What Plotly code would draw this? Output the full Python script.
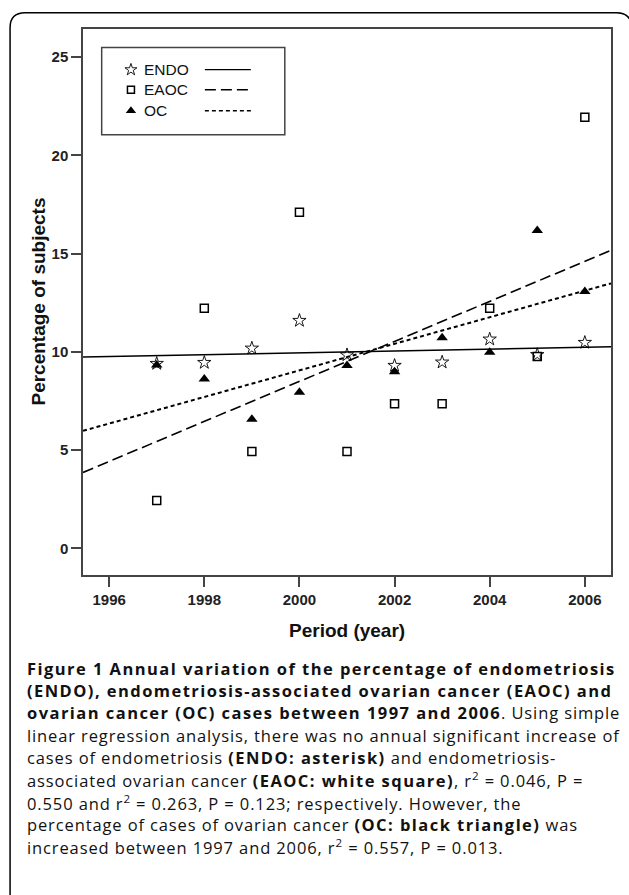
import numpy as np
import plotly.graph_objects as go

# ---------------- data ----------------
years = [1997, 1998, 1999, 2000, 2001, 2002, 2003, 2004, 2005, 2006]
endo = [9.40, 9.45, 10.18, 11.59, 9.84, 9.30, 9.47, 10.64, 9.85, 10.47]
eaoc = [2.43, 12.22, 4.92, 17.10, 4.92, 7.35, 7.35, 12.22, 9.76, 21.94]
oc = [9.33, 8.62, 6.57, 7.94, 9.30, 8.99, 10.72, 9.98, 16.17, 13.07]
series_names = ["ENDO", "EAOC", "OC"]
x_ticks = [1996, 1998, 2000, 2002, 2004, 2006]
y_ticks = [0, 5, 10, 15, 20, 25]
x_title = "Period (year)"
y_title = "Percentage of subjects"
# caption: list of (text, bold) segments per line
caption_lines = [
    [("Figure 1 Annual variation of the percentage of endometriosis", True)],
    [("(ENDO), endometriosis-associated ovarian cancer (EAOC) and", True)],
    [("ovarian cancer (OC) cases between 1997 and 2006", True), (". Using simple", False)],
    [("linear regression analysis, there was no annual significant increase of", False)],
    [("cases of endometriosis ", False), ("(ENDO: asterisk)", True), (" and endometriosis-", False)],
    [("associated ovarian cancer ", False), ("(EAOC: white square)", True),
     (", r<sup>2</sup> = 0.046, P =", False)],
    [("0.550 and r<sup>2</sup> = 0.263, P = 0.123; respectively. However, the", False)],
    [("percentage of cases of ovarian cancer ", False), ("(OC: black triangle)", True), (" was", False)],
    [("increased between 1997 and 2006, r<sup>2</sup> = 0.557, P = 0.013.", False)],
]

# ---------------- layout constants ----------------
W_FIG, H_FIG = 629, 895
L, R, T, B = 83, 611.5, 29.3, 575
PW, PH = R - L, B - T
X_RANGE = [1995.45, 2006.55]
Y_RANGE = [-1.36, 26.43]
AX_COLOR = "#444444"
TICK_FONT = dict(family="Liberation Sans", size=15, color="#222222")
TITLE_FONT = dict(family="Liberation Sans", size=19, color="#111111")
LEG_FONT = dict(family="Liberation Sans", size=15.5, color="#111111")
CAP_FONT = dict(family="Open Sans", size=16.5, color="#111111")
REG_SPACING = "0.88px"
BOLD_SPACING = "1.45px"

def px(x):
    return (x - L) / PW

def py(y):
    return (B - y) / PH

styles = {
    "ENDO": dict(symbol="star-open", size=10, line_w=0.9, dash="solid", lw=1.6),
    "EAOC": dict(symbol="square-open", size=8, line_w=1.5, dash="11px,5px", lw=1.6),
    "OC": dict(symbol="triangle-up", size=10, line_w=0, dash="4px,3px", lw=2.0),
}
values = {"ENDO": endo, "EAOC": eaoc, "OC": oc}

fig = go.Figure()

# regression lines (least-squares fit of each series)
xs = np.array(X_RANGE)
for name in series_names:
    k, b0 = np.polyfit(years, values[name], 1)
    fig.add_trace(go.Scatter(
        x=xs, y=k * xs + b0, mode="lines",
        line=dict(color="black", width=styles[name]["lw"], dash=styles[name]["dash"]),
        showlegend=False, hoverinfo="skip"))

# points
for name in series_names:
    st = styles[name]
    fig.add_trace(go.Scatter(
        x=years, y=values[name], mode="markers", name=name,
        marker=dict(symbol=st["symbol"], size=st["size"], color="black",
                    line=dict(color="black", width=st["line_w"])),
        showlegend=False))

# ---------------- custom legend ----------------
leg_box = (101.7, 47.7, 285, 135)
leg_rows = [70, 90, 111]
leg_marker_x = 131
leg_text_x = 142
leg_line = (205, 251)

for name, yy in zip(series_names, leg_rows):
    st = styles[name]
    fig.add_trace(go.Scatter(
        x=[leg_marker_x], y=[yy], mode="markers", xaxis="x2", yaxis="y2",
        marker=dict(symbol=st["symbol"], size=st["size"] - 1, color="black",
                    line=dict(color="black", width=st["line_w"])),
        showlegend=False, hoverinfo="skip"))

shapes = [
    dict(type="rect", xref="paper", yref="paper",
         x0=px(leg_box[0]), x1=px(leg_box[2]), y0=py(leg_box[1]), y1=py(leg_box[3]),
         line=dict(color=AX_COLOR, width=1.5), fillcolor="rgba(0,0,0,0)"),
]
for name, yy in zip(series_names, leg_rows):
    st = styles[name]
    shapes.append(dict(type="line", xref="paper", yref="paper",
                       x0=px(leg_line[0]), x1=px(leg_line[1]), y0=py(yy), y1=py(yy),
                       line=dict(color="black", width=st["lw"] - 0.3, dash=st["dash"])))

# outer rounded frame
fx0, fy0 = 10, 13
frame_path = (
    f"M {px(fx0)} {py(H_FIG + 10)} L {px(fx0)} {py(fy0 + 15)} "
    f"Q {px(fx0)} {py(fy0)} {px(fx0 + 15)} {py(fy0)} "
    f"L {px(617)} {py(fy0)} Q {px(632)} {py(fy0)} {px(632)} {py(fy0 + 15)} "
    f"L {px(632)} {py(H_FIG + 10)}"
)
shapes.append(dict(type="path", xref="paper", yref="paper", path=frame_path,
                   line=dict(color="black", width=1.5)))

annotations = []
for name, yy in zip(series_names, leg_rows):
    annotations.append(dict(xref="paper", yref="paper", x=px(leg_text_x), y=py(yy),
                            xanchor="left", yanchor="middle", text=name,
                            showarrow=False, font=LEG_FONT))

annotations.append(dict(xref="paper", yref="paper", x=px(37.5), y=py((T + B) / 2),
                        textangle=-90, xanchor="center", yanchor="middle",
                        text=f"<b>{y_title}</b>", showarrow=False, font=TITLE_FONT))
annotations.append(dict(xref="paper", yref="paper", x=px((L + R) / 2), y=py(630),
                        xanchor="center", yanchor="middle",
                        text=f"<b>{x_title}</b>", showarrow=False, font=TITLE_FONT))

def seg_html(text, bold):
    if bold:
        return f'<b><span style="letter-spacing:{BOLD_SPACING}">{text}</span></b>'
    return f'<span style="letter-spacing:{REG_SPACING}">{text}</span>'

cap_top, cap_step, cap_x = 668, 22.4, 25
for i, segs in enumerate(caption_lines):
    html = "".join(seg_html(t, b) for t, b in segs)
    annotations.append(dict(xref="paper", yref="paper", x=px(cap_x), y=py(cap_top + i * cap_step),
                            xanchor="left", yanchor="middle", align="left",
                            text=html, showarrow=False, font=CAP_FONT))

axis_common = dict(showline=True, linecolor=AX_COLOR, linewidth=1.5, mirror=True,
                   ticks="outside", ticklen=10, tickwidth=1.5, tickcolor=AX_COLOR,
                   showgrid=False, zeroline=False, tickfont=TICK_FONT)

fig.update_layout(
    width=W_FIG, height=H_FIG,
    margin=dict(l=L, r=W_FIG - R, t=T, b=H_FIG - B, autoexpand=False),
    paper_bgcolor="white", plot_bgcolor="white",
    xaxis=dict(range=X_RANGE, tickvals=x_ticks, ticktext=[f"<b>{v}</b>" for v in x_ticks],
               **axis_common),
    yaxis=dict(range=Y_RANGE, tickvals=y_ticks, ticktext=[f"<b>{v}</b>" for v in y_ticks],
               **axis_common),
    xaxis2=dict(range=[L, R], overlaying="x", visible=False),
    yaxis2=dict(range=[B, T], overlaying="y", visible=False),
    shapes=shapes, annotations=annotations, showlegend=False,
)

fig.write_html("out.html", config={"displayModeBar": False},
               post_script="document.body.style.margin='0';document.body.style.overflow='hidden';")
